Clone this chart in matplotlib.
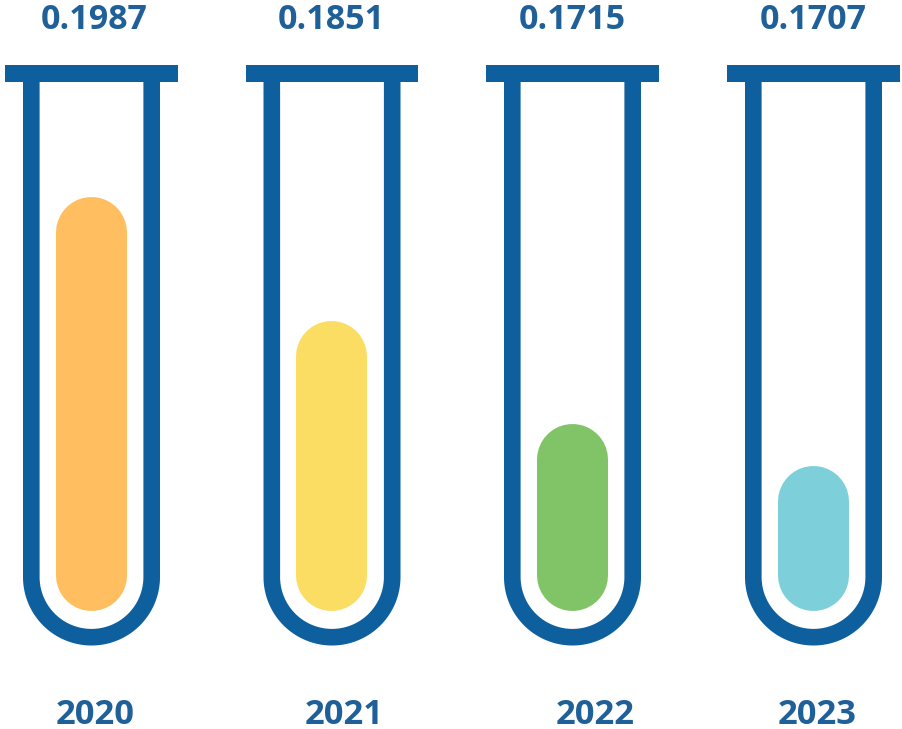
"""Test-tube infographic: one tube per year with a rounded fill level."""

import matplotlib

matplotlib.use("Agg")
import matplotlib.pyplot as plt
import numpy as np

years = ["2020", "2021", "2022", "2023"]
values = ["0.1987", "0.1851", "0.1715", "0.1707"]
# fill height of each tube in picture pixels
fill_heights = [414, 290, 187, 145]
fill_colors = ["#FFBE5F", "#FBDD63", "#80C467", "#7DD0D9"]
tube_centers = [91.5, 332, 572.5, 813.5]
value_centers = [94, 331, 572, 813]
year_centers = [95.5, 344.5, 595.5, 817.5]

BLUE = "#0E5F9E"
TEXT_BLUE = "#1F6099"
FILL_BOTTOM = 610.3
FILL_WIDTH = 71
PX = 72 / 100  # points per pixel

plt.rcParams["font.family"] = ["Open Sans", "DejaVu Sans"]

fig = plt.figure(figsize=(9.02, 7.29), dpi=100)
ax = fig.add_axes([0, 0, 1, 1])
ax.set_xlim(0, 902)
ax.set_ylim(729, 0)
ax.axis("off")

for i, cx in enumerate(tube_centers):
    # tube wall: straight sides joined by a half circle
    r = 60.2
    theta = np.linspace(np.pi, 0, 120)
    xs = np.r_[cx - r, cx + r * np.cos(theta), cx + r]
    ys = np.r_[73, 577 + r * np.sin(theta), 73]
    ax.plot(xs, ys, color=BLUE, lw=16.6 * PX, solid_capstyle="butt", solid_joinstyle="round")
    ax.fill_between([cx - 86.2, cx + 86.2], 65, 81.5, color=BLUE, lw=0)

    # liquid: a thick line with round caps gives true half circle ends
    rad = FILL_WIDTH / 2
    ax.plot(
        [cx - 0.7, cx - 0.7],
        [FILL_BOTTOM - rad, FILL_BOTTOM - fill_heights[i] + rad],
        color=fill_colors[i],
        lw=FILL_WIDTH * PX,
        solid_capstyle="round",
    )

    ax.text(value_centers[i], 20, values[i], color=TEXT_BLUE, fontsize=24.5, fontweight="bold",
            ha="center", va="center")
    ax.text(year_centers[i], 715, years[i], color=TEXT_BLUE, fontsize=24.8, fontweight="bold",
            ha="center", va="center")

fig.savefig("out.png", dpi=100)
plt.close(fig)
